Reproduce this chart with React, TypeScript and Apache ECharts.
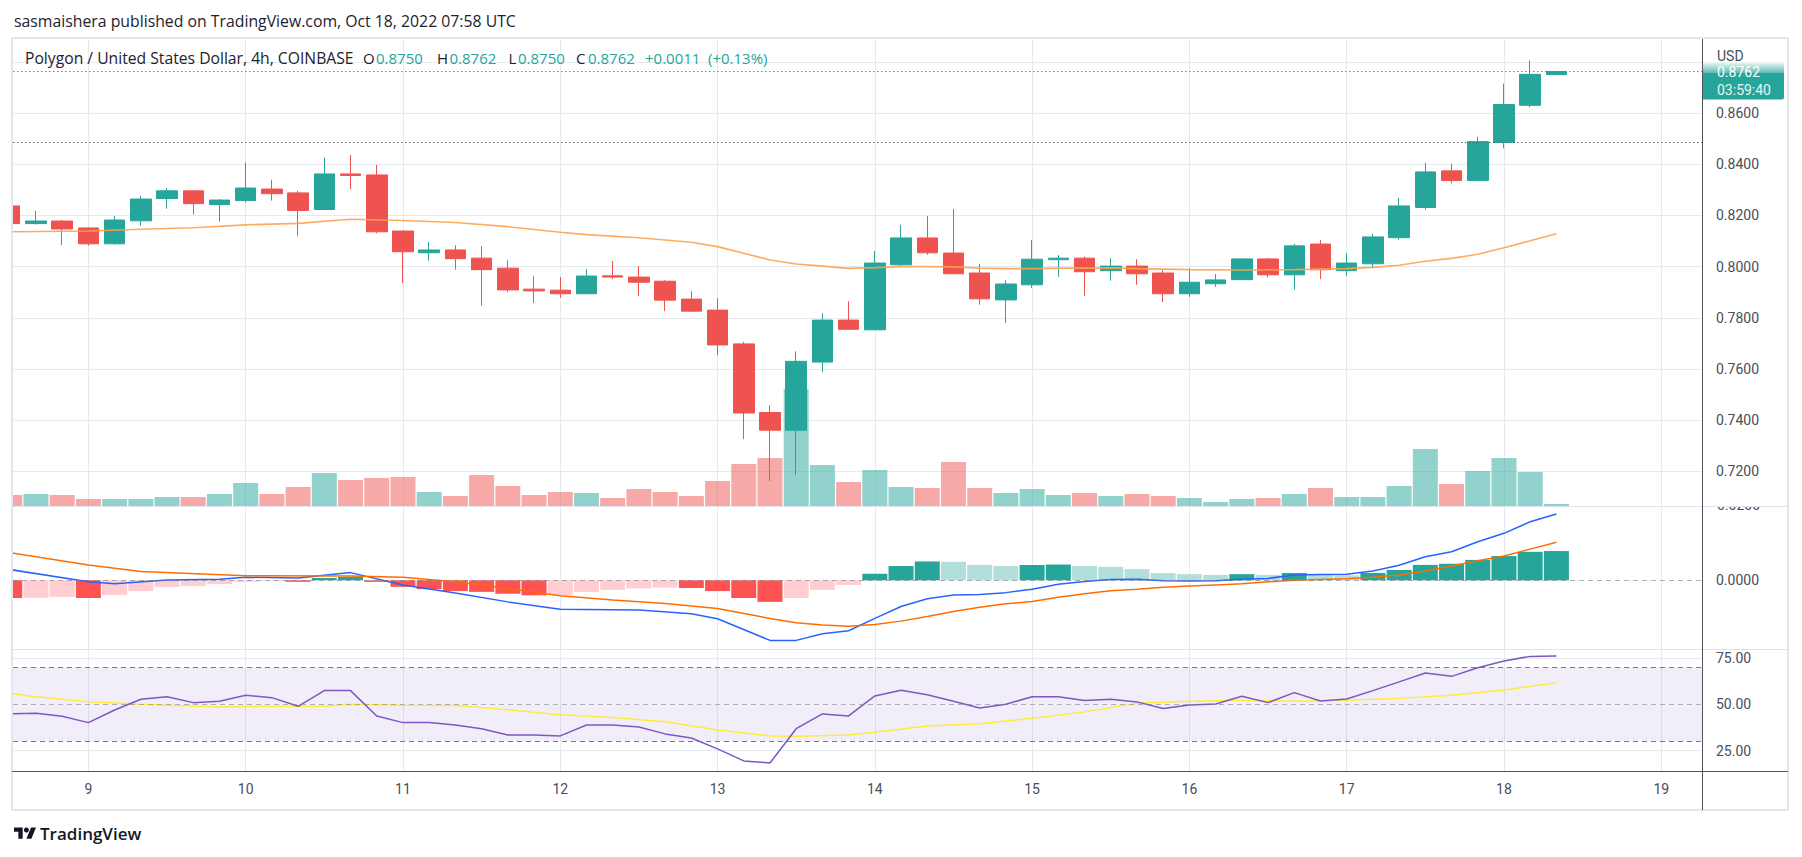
import React, { useEffect, useRef } from "react";
import * as echarts from "echarts";

const FONT = "Roboto, 'Noto Sans', sans-serif";
const TFONT = "'Open Sans', 'Noto Sans', sans-serif";
const UP = "#26a69a";
const DOWN = "#ef5350";
const GRID = "#e4eaf0";
const AXIS_TXT = "#4a4e59";

// x: candle index, 0 = Oct 9 00:00, one unit = one 4h candle
const candleX = [-3, -2, -1, 0, 1, 2, 3, 4, 5, 6, 7, 8, 9, 10, 11, 12, 13, 14, 15, 16, 17, 18, 19, 20, 21, 22, 23, 24, 25, 26, 27, 28, 29, 30, 31, 32, 33, 34, 35, 36, 37, 38, 39, 40, 41, 42, 43, 44, 45, 46, 47, 48, 49, 50, 51, 52, 53, 54, 55, 56];
const openP = [0.8237, 0.8168, 0.8178, 0.8151, 0.8089, 0.8179, 0.8266, 0.8296, 0.8242, 0.8258, 0.8303, 0.8288, 0.8223, 0.8362, 0.8358, 0.8139, 0.8054, 0.8065, 0.8033, 0.7994, 0.7912, 0.7908, 0.7894, 0.7964, 0.7959, 0.7943, 0.7873, 0.7830, 0.7698, 0.7430, 0.7361, 0.7627, 0.7791, 0.7753, 0.8007, 0.8112, 0.8053, 0.7975, 0.7870, 0.7929, 0.8027, 0.8033, 0.7984, 0.8002, 0.7975, 0.7894, 0.7933, 0.7949, 0.8030, 0.7968, 0.8088, 0.7984, 0.8011, 0.8113, 0.8231, 0.8374, 0.8336, 0.8485, 0.8630, 0.8750];
const highP = [0.8245, 0.8217, 0.8182, 0.8153, 0.8198, 0.8276, 0.8307, 0.8298, 0.8264, 0.8407, 0.8339, 0.8296, 0.8426, 0.8436, 0.8397, 0.8140, 0.8096, 0.8084, 0.8080, 0.8025, 0.7963, 0.7959, 0.7990, 0.8022, 0.8002, 0.7947, 0.7904, 0.7877, 0.7706, 0.7458, 0.7669, 0.7818, 0.7865, 0.8061, 0.8163, 0.8198, 0.8225, 0.8010, 0.7947, 0.8104, 0.8045, 0.8040, 0.8033, 0.8029, 0.7986, 0.7994, 0.7971, 0.8031, 0.8034, 0.8088, 0.8104, 0.8053, 0.8128, 0.8269, 0.8406, 0.8402, 0.8507, 0.8715, 0.8805, 0.8762];
const lowP = [0.8162, 0.8164, 0.8084, 0.8082, 0.8086, 0.8160, 0.8226, 0.8203, 0.8176, 0.8250, 0.8258, 0.8119, 0.8222, 0.8303, 0.8130, 0.7935, 0.8023, 0.7988, 0.7847, 0.7901, 0.7858, 0.7878, 0.7893, 0.7951, 0.7885, 0.7826, 0.7822, 0.7654, 0.7326, 0.7162, 0.7185, 0.7588, 0.7754, 0.7752, 0.8000, 0.8046, 0.7971, 0.7851, 0.7780, 0.7917, 0.7960, 0.7886, 0.7945, 0.7929, 0.7862, 0.7882, 0.7921, 0.7948, 0.7957, 0.7910, 0.7951, 0.7964, 0.7996, 0.8105, 0.8222, 0.8325, 0.8335, 0.8462, 0.8622, 0.8750];
const closeP = [0.8168, 0.8178, 0.8147, 0.8089, 0.8182, 0.8264, 0.8296, 0.8246, 0.8260, 0.8307, 0.8285, 0.8219, 0.8362, 0.8356, 0.8136, 0.8058, 0.8065, 0.8031, 0.7988, 0.7909, 0.7905, 0.7894, 0.7963, 0.7959, 0.7939, 0.7869, 0.7826, 0.7694, 0.7428, 0.7361, 0.7630, 0.7791, 0.7755, 0.8014, 0.8112, 0.8054, 0.7972, 0.7874, 0.7932, 0.8029, 0.8033, 0.7980, 0.8002, 0.7972, 0.7894, 0.7939, 0.7948, 0.8030, 0.7968, 0.8081, 0.7988, 0.8014, 0.8116, 0.8237, 0.8370, 0.8336, 0.8488, 0.8633, 0.8751, 0.8762];
const volumeK = [110, 120, 110, 70, 70, 70, 90, 90, 120, 230, 120, 190, 330, 260, 280, 290, 140, 100, 310, 200, 110, 140, 130, 80, 170, 140, 100, 250, 420, 480, 1170, 410, 240, 360, 190, 180, 440, 180, 130, 170, 110, 130, 100, 120, 100, 80, 40, 70, 80, 120, 180, 90, 90, 200, 570, 220, 350, 480, 340, 20];

// moving average on price [x, value]
const maLine = [[-3, 0.8136], [0, 0.8139], [2, 0.8146], [4, 0.8152], [6, 0.8163], [8, 0.8169], [10, 0.8185], [12, 0.8180], [14, 0.8172], [16, 0.8156], [18, 0.8134], [19, 0.8125], [21, 0.8113], [23, 0.8095], [24, 0.8078], [25, 0.8052], [26, 0.8026], [27, 0.8010], [28, 0.8002], [29, 0.7993], [30, 0.7996], [31, 0.8000], [32, 0.8000], [33, 0.7999], [34, 0.7994], [35, 0.7992], [36, 0.7992], [37, 0.7994], [38, 0.7994], [39, 0.7995], [40, 0.7992], [41, 0.7990], [42, 0.7988], [44, 0.7987], [46, 0.7988], [48, 0.7992], [49, 0.7997], [50, 0.8005], [51, 0.8021], [52, 0.8032], [53, 0.8048], [54, 0.8074], [55, 0.8101], [56, 0.8128]];

// MACD
const macdHist = [-0.0046, -0.0045, -0.0043, -0.0046, -0.0038, -0.0028, -0.0017, -0.0015, -0.0010, -0.0004, -0.0002, -0.0004, 0.0006, 0.0009, -0.0004, -0.0017, -0.0023, -0.0028, -0.0030, -0.0035, -0.0039, -0.0038, -0.0030, -0.0025, -0.0021, -0.0019, -0.0020, -0.0028, -0.0046, -0.0056, -0.0046, -0.0025, -0.0012, 0.0017, 0.0037, 0.0049, 0.0048, 0.0040, 0.0037, 0.0040, 0.0041, 0.0037, 0.0035, 0.0029, 0.0019, 0.0016, 0.0014, 0.0016, 0.0014, 0.0019, 0.0014, 0.0013, 0.0019, 0.0027, 0.0040, 0.0043, 0.0053, 0.0063, 0.0074, 0.0076];
const macdLine = [[-3, 0.0028], [0, -0.0004], [1, -0.0009], [3, 0.0001], [5, 0.0003], [6, 0.0008], [8, 0.0006], [10, 0.0020], [12, -0.0012], [14, -0.0033], [16, -0.0056], [18, -0.0075], [21, -0.0077], [23, -0.0087], [24, -0.0100], [26, -0.0156], [27, -0.0156], [28, -0.0139], [29, -0.0131], [30, -0.0099], [31, -0.0068], [32, -0.0048], [33, -0.0038], [34, -0.0037], [35, -0.0032], [36, -0.0023], [37, -0.0010], [38, -0.0003], [39, 0.0002], [40, 0.0003], [41, -0.0001], [42, -0.0002], [43, -0.0001], [44, 0.0003], [45, 0.0005], [46, 0.0014], [47, 0.0015], [48, 0.0016], [49, 0.0024], [50, 0.0039], [51, 0.0061], [52, 0.0074], [53, 0.0100], [54, 0.0122], [55, 0.0152], [56, 0.0172]];
const signalLine = [[-3, 0.0072], [0, 0.0040], [2, 0.0023], [6, 0.0012], [10, 0.0011], [12, 0.0008], [14, -0.0004], [16, -0.0021], [18, -0.0040], [20, -0.0051], [22, -0.0060], [24, -0.0073], [26, -0.0099], [27, -0.0110], [28, -0.0116], [29, -0.0119], [30, -0.0115], [31, -0.0106], [32, -0.0094], [33, -0.0081], [34, -0.0070], [35, -0.0061], [36, -0.0055], [37, -0.0044], [38, -0.0035], [39, -0.0027], [40, -0.0023], [41, -0.0018], [42, -0.0015], [43, -0.0012], [44, -0.0009], [45, -0.0004], [46, 0.0000], [47, 0.0002], [48, 0.0004], [49, 0.0008], [50, 0.0014], [51, 0.0024], [52, 0.0037], [53, 0.0051], [54, 0.0063], [55, 0.0081], [56, 0.0099]];

// RSI
const rsiValues = [44.8, 45.1, 43.5, 40.1, 46.9, 52.7, 54.1, 50.9, 51.6, 54.9, 53.6, 48.9, 57.4, 57.4, 43.7, 40.1, 40.1, 38.8, 36.8, 33.4, 33.4, 32.9, 38.8, 38.8, 37.7, 34.0, 31.8, 25.9, 19.4, 18.3, 36.8, 44.8, 43.7, 54.5, 57.6, 55.2, 51.6, 48.0, 50.0, 54.1, 54.1, 52.0, 52.7, 51.3, 47.7, 49.6, 50.2, 54.3, 50.9, 56.3, 51.8, 52.9, 57.4, 62.1, 66.9, 65.1, 69.8, 73.4, 75.9, 76.1];
const rsiMaLine = [[-3, 55.8], [-2, 54.1], [0, 51.4], [2, 50.0], [5, 48.6], [7, 48.9], [9, 48.9], [10, 50.0], [12, 49.5], [14, 49.3], [16, 47.1], [18, 44.4], [20, 42.8], [22, 40.6], [24, 36.1], [26, 32.9], [27, 32.7], [29, 33.4], [30, 34.9], [32, 38.3], [34, 39.5], [36, 42.4], [38, 45.9], [40, 50.5], [42, 51.6], [44, 52.2], [46, 51.6], [48, 52.2], [50, 53.2], [52, 54.9], [54, 57.7], [56, 61.7]];

// axes
const dayTicks = [0, 6, 12, 18, 24, 30, 36, 42, 48, 54, 60];
const dayLabels = ["9", "10", "11", "12", "13", "14", "15", "16", "17", "18", "19"];
const priceGridValues = [0.72, 0.74, 0.76, 0.78, 0.80, 0.82, 0.84, 0.86, 0.88];
const priceLabelValues = [0.72, 0.74, 0.76, 0.78, 0.80, 0.82, 0.84, 0.86];
const macdLabelValues = [0];
const rsiGridValues = [25, 75];
const rsiLabelValues = [25, 50, 75];
const lastPrice = 0.8762;
const refPrice = 0.8485;

let logoRegistered = false;

export default function App() {
  const ref = useRef<HTMLDivElement>(null);
  useEffect(() => {
    if (!ref.current) return;
    if (!logoRegistered) {
      echarts.graphic.registerShape(
        "tvlogo",
        echarts.graphic.extendPath("M14 22H7V11H0V4h14v18zM28 22h-8l7.5-18h8L28 22z", {})
      );
      logoRegistered = true;
    }
    const chart = echarts.init(ref.current, null, { renderer: "svg" });

    const XMIN = -2.876;
    const XMAX = 61.554;
    const candles = candleX.map((x, i) => [x, openP[i], closeP[i], lowP[i], highP[i]]);
    const vols = candleX.map((x, i) => ({
      value: [x, volumeK[i]],
      itemStyle: { color: closeP[i] >= openP[i] ? "rgba(38,166,154,0.5)" : "rgba(239,83,80,0.5)" },
    }));
    const hist = candleX.map((x, i) => {
      const h = macdHist[i];
      const prev = i > 0 ? macdHist[i - 1] : 0;
      const color = h >= 0 ? (h > prev ? "#26a69a" : "#b2dfdb") : h < prev ? "#ff5252" : "#ffcdd2";
      return { value: [x, h], itemStyle: { color } };
    });
    const rsi = candleX.map((x, i) => [x, rsiValues[i]]);

    const mkX = (gi: number, withSplit: boolean, withLabels: boolean) => ({
      type: "value",
      gridIndex: gi,
      min: XMIN,
      max: XMAX,
      axisLine: { show: false },
      axisTick: { show: false, customValues: dayTicks },
      axisLabel: withLabels
        ? {
            show: true,
            customValues: dayTicks,
            formatter: (v: number) => dayLabels[dayTicks.indexOf(Math.round(v))] ?? "",
            color: AXIS_TXT,
            fontSize: 14,
            fontFamily: FONT,
            margin: 10,
          }
        : { show: false },
      splitLine: { show: withSplit, lineStyle: { color: GRID, width: 1 } },
    });

    const labelStyle = { color: AXIS_TXT, fontSize: 14, fontFamily: FONT, margin: 14 };
    const tx = (x: number, y: number, text: string, fill: string, size = 15) => ({
      type: "text",
      z: 60,
      x,
      y,
      style: { text, fill, fontSize: size, fontFamily: TFONT, verticalAlign: "middle" },
    });

    const option: any = {
      animation: false,
      backgroundColor: "#ffffff",
      textStyle: { fontFamily: FONT },
      grid: [
        { left: 13, right: 100, top: 40, height: 466 },
        { left: 13, right: 100, top: 40, height: 466 },
        { left: 13, right: 100, top: 508, height: 141 },
        { left: 13, right: 100, top: 650, height: 122 },
      ],
      xAxis: [mkX(0, true, false), mkX(1, false, false), mkX(2, true, false), mkX(3, true, true)],
      yAxis: [
        {
          type: "value",
          gridIndex: 0,
          position: "right",
          min: 0.70648,
          max: 0.88852,
          axisLine: { show: false },
          axisTick: { show: false, customValues: priceGridValues },
          axisLabel: { ...labelStyle, customValues: priceLabelValues, formatter: (v: number) => v.toFixed(4) },
          splitLine: { show: true, lineStyle: { color: GRID } },
        },
        { type: "value", gridIndex: 1, min: 0, max: 4660, show: false, splitLine: { show: false } },
        {
          type: "value",
          gridIndex: 2,
          position: "right",
          min: -0.01784,
          max: 0.01878,
          axisLine: { show: false },
          axisTick: { show: false, customValues: macdLabelValues },
          axisLabel: { ...labelStyle, customValues: macdLabelValues, formatter: (v: number) => v.toFixed(4) },
          splitLine: { show: false },
        },
        {
          type: "value",
          gridIndex: 3,
          position: "right",
          min: 13.4,
          max: 79.35,
          axisLine: { show: false },
          axisTick: { show: false, customValues: rsiGridValues },
          axisLabel: { ...labelStyle, customValues: rsiLabelValues, formatter: (v: number) => v.toFixed(2) },
          splitLine: { show: true, lineStyle: { color: GRID } },
        },
      ],
      series: [
        {
          type: "bar",
          xAxisIndex: 1,
          yAxisIndex: 1,
          data: vols,
          barWidth: 25,
          z: 1,
        },
        {
          type: "candlestick",
          xAxisIndex: 0,
          yAxisIndex: 0,
          data: candles,
          encode: { x: 0, y: [1, 2, 3, 4] },
          barWidth: 21,
          z: 3,
          itemStyle: { color: UP, color0: DOWN, borderColor: UP, borderColor0: DOWN, borderWidth: 1 },
        },
        {
          type: "line",
          xAxisIndex: 0,
          yAxisIndex: 0,
          data: maLine,
          showSymbol: false,
          symbol: "none",
          z: 4,
          lineStyle: { color: "#ffa24e", width: 1.6, opacity: 0.9 },
          markLine: {
            silent: true,
            precision: 4,
            symbol: ["none", "none"],
            label: { show: false },
            data: [
              { yAxis: lastPrice, lineStyle: { color: UP, type: [1.5, 2.5], width: 1, opacity: 1 } },
              { yAxis: refPrice, lineStyle: { color: "#5d606b", type: [1.5, 2.5], width: 1, opacity: 1 } },
            ],
          },
        },
        {
          type: "bar",
          xAxisIndex: 2,
          yAxisIndex: 2,
          data: hist,
          barWidth: 25,
          markLine: {
            silent: true,
            precision: 4,
            symbol: ["none", "none"],
            label: { show: false },
            data: [{ yAxis: 0, lineStyle: { color: "rgba(120,123,134,0.6)", type: [5, 4], width: 1 } }],
          },
        },
        {
          type: "line",
          xAxisIndex: 2,
          yAxisIndex: 2,
          data: macdLine,
          symbol: "none",
          lineStyle: { color: "#2962ff", width: 1.5 },
        },
        {
          type: "line",
          xAxisIndex: 2,
          yAxisIndex: 2,
          data: signalLine,
          symbol: "none",
          lineStyle: { color: "#ff6d00", width: 1.5 },
        },
        {
          type: "line",
          xAxisIndex: 3,
          yAxisIndex: 3,
          data: rsiMaLine,
          symbol: "none",
          lineStyle: { color: "#ffeb3b", width: 1.5 },
          markArea: {
            silent: true,
            itemStyle: { color: "rgba(126,87,194,0.1)" },
            data: [[{ yAxis: 30 }, { yAxis: 70 }]],
          },
          markLine: {
            silent: true,
            symbol: ["none", "none"],
            label: { show: false },
            data: [
              { yAxis: 70, lineStyle: { color: "#787b86", type: [5, 4], width: 1 } },
              { yAxis: 50, lineStyle: { color: "rgba(120,123,134,0.55)", type: [5, 4], width: 1 } },
              { yAxis: 30, lineStyle: { color: "#787b86", type: [5, 4], width: 1 } },
            ],
          },
        },
        {
          type: "line",
          xAxisIndex: 3,
          yAxisIndex: 3,
          data: rsi,
          symbol: "none",
          lineStyle: { color: "#7e57c2", width: 1.5 },
        },
      ],
      graphic: [
        // cover overflow of first clipped candle at the left edge
        { type: "rect", z: 50, shape: { x: 0, y: 39, width: 12, height: 740 }, style: { fill: "#fff" } },
        // frame
        { type: "rect", z: 51, shape: { x: 12, y: 38, width: 1776, height: 772 }, style: { fill: "none", stroke: "#e3e6ec", lineWidth: 2 } },
        // "0.0200" partial label
        { type: "text", z: 52, x: 1717, y: 505, style: { text: "0.0200", fill: AXIS_TXT, fontSize: 14, fontFamily: FONT, verticalAlign: "middle" } },
        { type: "rect", z: 53, shape: { x: 1704, y: 490, width: 83, height: 16.5 }, style: { fill: "#fff" } },
        // pane separators
        { type: "line", z: 54, shape: { x1: 13, y1: 506.5, x2: 1788, y2: 506.5 }, style: { stroke: "#e0e3eb", lineWidth: 1 } },
        { type: "line", z: 54, shape: { x1: 13, y1: 649.5, x2: 1788, y2: 649.5 }, style: { stroke: "#e0e3eb", lineWidth: 1 } },
        // time axis line & price axis line
        { type: "line", z: 55, shape: { x1: 12, y1: 771.5, x2: 1788, y2: 771.5 }, style: { stroke: "#50535e", lineWidth: 1 } },
        { type: "line", z: 55, shape: { x1: 1702.5, y1: 39, x2: 1702.5, y2: 810 }, style: { stroke: "#50535e", lineWidth: 1 } },
        // title
        tx(14, 21, "sasmaishera published on TradingView.com, Oct 18, 2022 07:58 UTC", "#1e222d", 15.8),
        // legend
        tx(25, 57.5, "Polygon / United States Dollar, 4h, COINBASE", "#1e222d", 15.7),
        tx(363, 57.5, "O", "#1e222d", 15),
        tx(376, 57.5, "0.8750", UP, 15),
        tx(437, 57.5, "H", "#1e222d", 15),
        tx(449.5, 57.5, "0.8762", UP, 15),
        tx(508.5, 57.5, "L", "#1e222d", 15),
        tx(518, 57.5, "0.8750", UP, 15),
        tx(576, 57.5, "C", "#1e222d", 15),
        tx(588, 57.5, "0.8762", UP, 15),
        tx(645, 57.5, "+0.0011", UP, 15),
        tx(708, 57.5, "(+0.13%)", UP, 15),
        // USD
        { type: "text", z: 60, x: 1717, y: 56, style: { text: "USD", fill: AXIS_TXT, fontSize: 14, fontFamily: FONT, verticalAlign: "middle" } },
        // last price box
        { type: "rect", z: 60, shape: { x: 1703, y: 62, width: 81, height: 37.5, r: [0, 2, 2, 0] }, style: { fill: UP } },
        { type: "text", z: 61, x: 1717, y: 72, style: { text: "0.8762", fill: "#ffffff", fontSize: 14, fontFamily: FONT, verticalAlign: "middle" } },
        { type: "text", z: 61, x: 1717, y: 90, style: { text: "03:59:40", fill: "#e6f5f3", fontSize: 14, fontFamily: FONT, verticalAlign: "middle" } },
        {
          type: "rect",
          z: 62,
          shape: { x: 1703, y: 61, width: 82, height: 12 },
          style: {
            fill: new echarts.graphic.LinearGradient(0, 0, 0, 1, [
              { offset: 0, color: "rgba(255,255,255,1)" },
              { offset: 1, color: "rgba(255,255,255,0.25)" },
            ]),
          },
        },
        // TradingView logo
        { type: "tvlogo", z: 60, x: 14, y: 825, scaleX: 0.62, scaleY: 0.62, style: { fill: "#131722" } },
        { type: "circle", z: 60, shape: { cx: 26.4, cy: 830, r: 2.5 }, style: { fill: "#131722" } },
        { type: "text", z: 60, x: 40, y: 833, style: { text: "TradingView", fill: "#131722", fontSize: 17, fontWeight: 600, fontFamily: TFONT, verticalAlign: "middle" } },
      ],
    };

    chart.setOption(option);
    return () => chart.dispose();
  }, []);

  return (
    <div
      ref={ref}
      style={{ position: "absolute", left: 0, top: 0, width: 1802, height: 857, background: "#fff" }}
    />
  );
}
